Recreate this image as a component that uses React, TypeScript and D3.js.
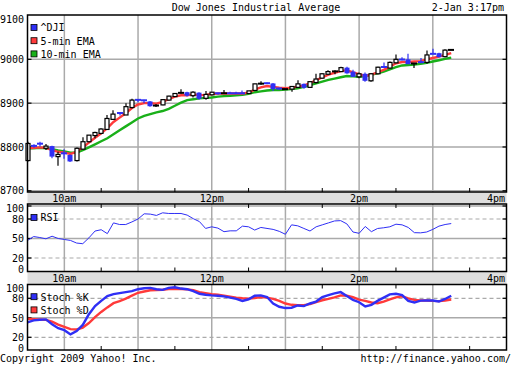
import { useEffect, useRef } from "react"
import * as d3 from "d3"

// 5-minute bars from 9:30
const open = [8769, 8803, 8808, 8797, 8802, 8778, 8786, 8782, 8769, 8795, 8812, 8826, 8831, 8840, 8863, 8878, 8873, 8890, 8908, 8907, 8904, 8894, 8896, 8907, 8915, 8923, 8925, 8917, 8924, 8911, 8919, 8923, 8922, 8923, 8923, 8923, 8922, 8929, 8944, 8946, 8945, 8934, 8932, 8932, 8936, 8944, 8936, 8947, 8957, 8966, 8972, 8972, 8981, 8972, 8960, 8967, 8951, 8967, 8983, 8980, 8992, 9000, 9000, 8990, 8994, 8993, 9013, 9014, 9006, 9021]
const high = [8812, 8806, 8812, 8807, 8803, 8789, 8795, 8783, 8799, 8822, 8827, 8835, 8843, 8873, 8884, 8879, 8900, 8910, 8909, 8908, 8905, 8898, 8909, 8917, 8922, 8932, 8926, 8927, 8925, 8928, 8925, 8924, 8930, 8926, 8926, 8929, 8928, 8944, 8950, 8947, 8946, 8935, 8933, 8938, 8952, 8945, 8950, 8967, 8968, 8975, 8975, 8983, 8983, 8976, 8970, 8970, 8968, 8983, 8993, 8995, 9011, 9005, 9013, 8991, 9003, 9020, 9024, 9015, 9023, 9022]
const low = [8767, 8798, 8801, 8793, 8774, 8757, 8773, 8766, 8767, 8795, 8811, 8820, 8829, 8839, 8862, 8872, 8873, 8888, 8902, 8900, 8892, 8891, 8895, 8906, 8914, 8922, 8915, 8913, 8908, 8908, 8918, 8919, 8921, 8921, 8921, 8921, 8921, 8928, 8942, 8944, 8928, 8930, 8931, 8926, 8935, 8933, 8935, 8945, 8956, 8965, 8966, 8971, 8967, 8960, 8957, 8949, 8949, 8966, 8982, 8979, 8991, 8998, 8989, 8980, 8992, 8990, 9012, 9004, 9005, 9021]
const close = [8808, 8802, 8807, 8802, 8778, 8783, 8785, 8767, 8797, 8812, 8827, 8833, 8841, 8865, 8875, 8877, 8892, 8907, 8907, 8906, 8893, 8895, 8908, 8916, 8922, 8924, 8917, 8925, 8910, 8920, 8925, 8922, 8923, 8922, 8922, 8922, 8928, 8944, 8945, 8945, 8932, 8933, 8932, 8938, 8944, 8935, 8949, 8955, 8967, 8972, 8973, 8981, 8968, 8960, 8967, 8951, 8967, 8982, 8982, 8993, 9000, 8999, 8989, 8991, 8993, 9010, 9012, 9005, 9021, 9022]
const ema5 = [8797, 8798, 8799, 8798, 8793, 8789, 8787, 8784, 8789, 8799, 8810, 8821, 8831, 8843, 8857, 8867, 8877, 8889, 8897, 8900, 8900, 8899, 8903, 8909, 8915, 8918, 8918, 8920, 8918, 8919, 8921, 8922, 8922, 8922, 8922, 8922, 8924, 8931, 8936, 8939, 8937, 8935, 8934, 8935, 8938, 8940, 8946, 8952, 8959, 8965, 8969, 8973, 8975, 8970, 8966, 8962, 8965, 8970, 8976, 8983, 8991, 8994, 8994, 8995, 8996, 9000, 9003, 9006, 9010, 9014]
const ema10 = [8797, 8797, 8798, 8797, 8795, 8792, 8790, 8787, 8787, 8793, 8799, 8806, 8813, 8820, 8829, 8838, 8847, 8856, 8865, 8871, 8875, 8879, 8882, 8887, 8894, 8901, 8907, 8909, 8911, 8912, 8913, 8915, 8916, 8917, 8918, 8919, 8921, 8925, 8927, 8929, 8930, 8930, 8931, 8932, 8934, 8937, 8941, 8945, 8949, 8953, 8956, 8959, 8962, 8961, 8960, 8962, 8965, 8968, 8972, 8977, 8982, 8986, 8987, 8988, 8990, 8992, 8995, 8998, 9001, 9004]
const rsi = [47, 53, 51.5, 49.5, 53.5, 50, 48.5, 47, 43, 42, 51, 61.5, 63.5, 57.5, 74, 71.5, 71.5, 75.5, 80, 88, 87.5, 85.5, 89.5, 88.5, 88.5, 88.5, 86, 80.5, 76, 65.5, 68, 66, 60.5, 61.8, 61.8, 69, 68, 63, 67, 65.5, 64, 61, 56.5, 71, 69.5, 65.5, 61.5, 68, 71, 74, 77, 77.5, 72.5, 60, 58, 68.5, 60.5, 65.4, 66.5, 68, 72, 71, 67, 59, 58.7, 60, 64, 69, 71.5, 73]
const stochK = [43, 46, 47, 47.5, 40, 34, 31, 24.5, 29.5, 39, 55.5, 68, 76, 83.5, 86.5, 88, 89.5, 91, 94, 95.5, 96, 94, 93, 96, 97, 95, 94, 91, 87, 85.5, 84.5, 84, 83, 81, 79, 76, 78.5, 84, 84.5, 82, 72, 67, 65, 65.5, 69, 68, 72, 75, 82, 85, 87.5, 89.5, 83.5, 77.5, 74, 67.4, 70, 76, 81, 86, 87, 85, 76, 73.5, 76.5, 76.7, 76.7, 75, 79, 84]
const stochD = [48.5, 47.8, 47.3, 46.8, 44, 39.5, 36, 32.5, 32, 35, 42, 51, 59, 66, 72.5, 75.5, 79.5, 84, 88.5, 90.5, 92.3, 92.8, 93.2, 94.3, 94.6, 94.4, 93.8, 92.5, 89.5, 88, 86.5, 85.5, 84, 82.5, 81, 80, 79.5, 80.5, 81.8, 81, 79, 76, 72, 70, 69.2, 69.5, 71, 74, 77, 79, 81.5, 84.5, 84, 81.8, 78, 76, 73.5, 72.5, 75, 78.5, 81.5, 83, 80, 77.5, 76.7, 76.7, 76, 75.6, 76.7, 78.2]

const barMinutes = 5
const priceTicks = [8700, 8800, 8900, 9000, 9100]
const oscTicks = [0, 20, 50, 80, 100]
const hourMarks = [30, 90, 150, 210, 270, 330] // minutes after 9:30
const halfHourMarks = [60, 120, 180, 240, 300, 360]
const bandLabels = [
  { label: "10am", t: 30 },
  { label: "12pm", t: 150 },
  { label: "2pm", t: 270 },
  { label: "4pm", t: 390 },
]

const BLUE = "#2f2ff5"
const RED = "#ff3a3a"
const GREEN = "#19b019"
const GRID = "#aaaaaa"
const FONT = "DejaVu Sans Mono"

export default function App() {
  const svgRef = useRef<SVGSVGElement>(null)

  useEffect(() => {
    if (!svgRef.current) return
    const svg = d3.select(svgRef.current)
    svg.selectAll("*").remove()

    const L = 27.5
    const R = 506.5
    const main = { top: 15, bottom: 192 }
    const rsiP = { top: 204, bottom: 271.5 }
    const stP = { top: 284.5, bottom: 350 }

    const x = d3.scaleLinear().domain([0, 390]).range([L, R])
    const yMain = d3.scaleLinear().domain([8700, 9100]).range([190.8, 15.5])
    const yRsi = d3.scaleLinear().domain([0, 100]).range([271, 206])
    const ySt = d3.scaleLinear().domain([0, 100]).range([350.3, 285.3])

    svg.append("rect").attr("width", 512).attr("height", 365).attr("fill", "#fff")

    // bands between the panels
    ;[
      [main.bottom, rsiP.top],
      [rsiP.bottom, stP.top],
    ].forEach(([a, b]) => {
      svg.append("rect").attr("x", L).attr("y", a).attr("width", R - L).attr("height", b - a).attr("fill", "#dedede")
      bandLabels.forEach((d) => {
        const last = d.t === 390
        svg.append("text")
          .attr("x", last ? R - 1.5 : x(d.t))
          .attr("y", (a + b) / 2 + 3.8)
          .attr("text-anchor", last ? "end" : "middle")
          .attr("font-family", FONT)
          .attr("font-size", 10)
          .text(d.label)
      })
    })

    const panel = (p: { top: number; bottom: number }, y: d3.ScaleLinear<number, number>, ticks: number[], dashed: number[], bothTicks: boolean) => {
      const g = svg.append("g")
      hourMarks.forEach((t) => {
        g.append("line").attr("x1", x(t)).attr("x2", x(t)).attr("y1", p.top).attr("y2", p.bottom)
          .attr("stroke", GRID).attr("stroke-width", 1.5)
      })
      ticks.forEach((v) => {
        const yy = y(v)
        if (yy <= p.top + 1 || yy >= p.bottom - 1) return
        g.append("line").attr("x1", L).attr("x2", R).attr("y1", yy).attr("y2", yy)
          .attr("stroke", GRID).attr("stroke-width", dashed.includes(v) ? 1.2 : 1.5)
          .attr("stroke-dasharray", dashed.includes(v) ? "4,3" : null)
        g.append("line").attr("x1", L).attr("x2", L + 4).attr("y1", yy).attr("y2", yy).attr("stroke", "#000").attr("stroke-width", 1.2)
        g.append("line").attr("x1", R - 4).attr("x2", R).attr("y1", yy).attr("y2", yy).attr("stroke", "#000").attr("stroke-width", 1.2)
      })
      halfHourMarks.forEach((t) => {
        g.append("line").attr("x1", x(t)).attr("x2", x(t)).attr("y1", p.bottom - 4).attr("y2", p.bottom)
          .attr("stroke", "#000").attr("stroke-width", 1)
        if (bothTicks)
          g.append("line").attr("x1", x(t)).attr("x2", x(t)).attr("y1", p.top).attr("y2", p.top + 4)
            .attr("stroke", "#000").attr("stroke-width", 1)
      })
      // labels, pulled inside the panel at its ends
      ticks.forEach((v) => {
        const yy = Math.max(p.top + 3.8, Math.min(p.bottom - 2, y(v)))
        svg.append("text").attr("x", 24).attr("y", yy + 3.8).attr("text-anchor", "end")
          .attr("font-family", FONT).attr("font-size", 10).text(v)
      })
    }

    panel(main, yMain, priceTicks, [], false)
    panel(rsiP, yRsi, oscTicks, [20, 80], true)
    panel(stP, ySt, oscTicks, [20, 80], true)

    const idx = d3.range(close.length)
    const xi = (i: number) => x(i * barMinutes)

    // EMA lines
    const mainLine = (vals: number[], color: string) =>
      svg.append("path")
        .attr("d", d3.line<number>().x(xi).y((i) => yMain(vals[i]))(idx) as string)
        .attr("fill", "none").attr("stroke", color).attr("stroke-width", 2.4)
    mainLine(ema10, GREEN)
    mainLine(ema5, RED)

    // candles
    idx.forEach((i) => {
      const o = open[i], c = close[i]
      const up = c >= o
      const col = up ? "#000" : BLUE
      const cx = Math.round(xi(i))
      svg.append("line").attr("x1", cx).attr("x2", cx).attr("y1", yMain(high[i])).attr("y2", yMain(low[i]))
        .attr("stroke", col).attr("stroke-width", 1.2)
      const top = yMain(Math.max(o, c))
      const bot = yMain(Math.min(o, c))
      const h = bot - top
      if (h < 2) {
        svg.append("rect").attr("x", cx - 3).attr("y", (top + bot) / 2 - 1).attr("width", 6).attr("height", 2).attr("fill", col)
      } else if (up) {
        svg.append("rect").attr("x", cx - 2).attr("y", top).attr("width", 4).attr("height", h)
          .attr("fill", "#fff").attr("stroke", "#000").attr("stroke-width", 1.2)
      } else {
        svg.append("rect").attr("x", cx - 2.5).attr("y", top).attr("width", 5).attr("height", h).attr("fill", BLUE)
      }
    })

    // RSI
    svg.append("path")
      .attr("d", d3.line<number>().x(xi).y((i) => yRsi(rsi[i]))(idx) as string)
      .attr("fill", "none").attr("stroke", BLUE).attr("stroke-width", 1)

    // Stochastics
    svg.append("path")
      .attr("d", d3.line<number>().x(xi).y((i) => ySt(stochD[i]))(idx) as string)
      .attr("fill", "none").attr("stroke", RED).attr("stroke-width", 2.4)
    svg.append("path")
      .attr("d", d3.line<number>().x(xi).y((i) => ySt(stochK[i]))(idx) as string)
      .attr("fill", "none").attr("stroke", BLUE).attr("stroke-width", 2.4)

    // frames
    ;[main, rsiP, stP].forEach((p) => {
      svg.append("rect").attr("x", L).attr("y", p.top).attr("width", R - L).attr("height", p.bottom - p.top)
        .attr("fill", "none").attr("stroke", "#000").attr("stroke-width", 1.5)
    })

    // legends
    const legend = (items: { label: string; color: string }[], y0: number, step: number) => {
      items.forEach((d, k) => {
        const cy = y0 + k * step
        svg.append("rect").attr("x", 31).attr("y", cy - 3).attr("width", 6).attr("height", 6)
          .attr("fill", d.color).attr("stroke", "#000").attr("stroke-width", 0.8)
        svg.append("text").attr("x", 40.5).attr("y", cy + 3.8).attr("font-family", FONT).attr("font-size", 10).text(d.label)
      })
    }
    legend([
      { label: "^DJI", color: BLUE },
      { label: "5-min EMA", color: RED },
      { label: "10-min EMA", color: GREEN },
    ], 27.5, 13.2)
    legend([{ label: "RSI", color: BLUE }], 217.5, 13)
    legend([
      { label: "Stoch %K", color: BLUE },
      { label: "Stoch %D", color: RED },
    ], 296.7, 13.2)

    // title and footer
    const txt = (s: string, xx: number, yy: number, anchor: string) =>
      svg.append("text").attr("x", xx).attr("y", yy).attr("text-anchor", anchor)
        .attr("font-family", FONT).attr("font-size", 10).text(s)
    txt("Dow Jones Industrial Average", 256, 10.5, "middle")
    txt("2-Jan 3:17pm", 504, 10.5, "end")
    txt("Copyright 2009 Yahoo! Inc.", 0, 362, "start")
    txt("http://finance.yahoo.com/", 511, 362, "end")
  }, [])

  return (
    <svg
      ref={svgRef}
      width={512}
      height={365}
      style={{ position: "absolute", left: 0, top: 0, display: "block" }}
    />
  )
}
